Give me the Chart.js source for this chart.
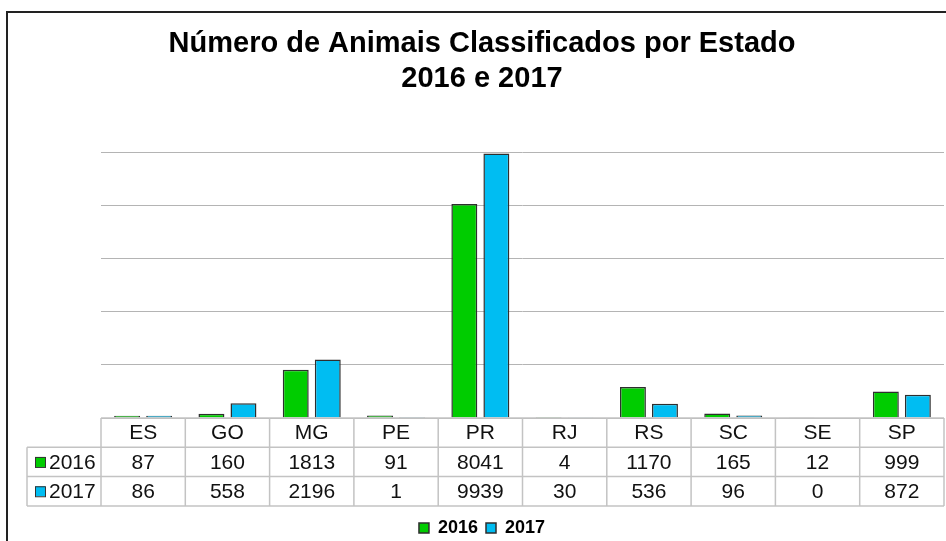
<!DOCTYPE html>
<html lang="pt">
<head>
<meta charset="UTF-8">
<title>Número de Animais Classificados por Estado</title>
<script src="https://cdn.jsdelivr.net/npm/chart.js"></script>
<style>
    body { margin: 0; background: #fff; }
    .wrap { position: relative; width: 946px; height: 541px; }
</style>
</head>
<body>
<div class="wrap"><canvas id="chart" width="946" height="541"></canvas></div>
<script>
    const estados = ['ES', 'GO', 'MG', 'PE', 'PR', 'RJ', 'RS', 'SC', 'SE', 'SP'];
    const anos = ['2016', '2017'];
    const valores2016 = [87, 160, 1813, 91, 8041, 4, 1170, 165, 12, 999];
    const valores2017 = [86, 558, 2196, 1, 9939, 30, 536, 96, 0, 872];
    const yTicks = [0, 2000, 4000, 6000, 8000, 10000];
    const cores = ['#00cc00', '#00bdf2'];
    const fonte = '"Liberation Sans", Arial, sans-serif';

    // frame around the chart (top and left edges visible)
    const moldura = {
        id: 'moldura',
        beforeDraw(chart) {
            const ctx = chart.ctx;
            ctx.save();
            ctx.fillStyle = '#fff';
            ctx.fillRect(0, 0, chart.width, chart.height);
            ctx.strokeStyle = '#222';
            ctx.lineWidth = 2;
            ctx.beginPath();
            ctx.moveTo(7, chart.height);
            ctx.lineTo(7, 12);
            ctx.lineTo(chart.width, 12);
            ctx.stroke();
            ctx.restore();
        }
    };

    // data table under the bars
    const tabela = {
        id: 'tabela',
        afterDraw(chart) {
            const { ctx, chartArea } = chart;
            const x = chart.scales.x;
            const left = chartArea.left, right = chartArea.right;
            const colW = (right - left) / estados.length;
            const top = chartArea.bottom;
            const rowH = 29.3;
            const labelLeft = 27;
            ctx.save();
            ctx.strokeStyle = '#c3c3c3';
            ctx.lineWidth = 1.5;
            ctx.beginPath();
            ctx.moveTo(left, top);
            ctx.lineTo(right, top);
            for (let r = 1; r <= 3; r++) {
                ctx.moveTo(labelLeft, top + r * rowH);
                ctx.lineTo(right, top + r * rowH);
            }
            for (let c = 0; c <= estados.length; c++) {
                const cx = left + c * colW;
                ctx.moveTo(cx, top);
                ctx.lineTo(cx, top + 3 * rowH);
            }
            ctx.moveTo(labelLeft, top + rowH);
            ctx.lineTo(labelLeft, top + 3 * rowH);
            ctx.stroke();

            ctx.fillStyle = '#111';
            ctx.font = '21px ' + fonte;
            ctx.textAlign = 'center';
            ctx.textBaseline = 'middle';
            estados.forEach((e, i) => {
                const cx = x.getPixelForValue(i);
                ctx.fillText(e, cx, top + rowH * 0.5 + 1);
                chart.data.datasets.forEach((ds, d) => {
                    ctx.fillText(String(ds.data[i]), cx, top + rowH * (1.5 + d) + 1);
                });
            });

            chart.data.datasets.forEach((ds, d) => {
                const cy = top + rowH * (1.5 + d);
                ctx.fillStyle = ds.backgroundColor;
                ctx.fillRect(35, cy - 5, 10, 10);
                ctx.strokeStyle = '#333';
                ctx.lineWidth = 1;
                ctx.strokeRect(35.5, cy - 4.5, 10, 10);
                ctx.fillStyle = '#111';
                ctx.textAlign = 'left';
                ctx.fillText(ds.label, 49, cy + 1);
            });
            ctx.restore();
        }
    };

    new Chart(document.getElementById('chart').getContext('2d'), {
        type: 'bar',
        data: {
            labels: estados,
            datasets: [
                { label: anos[0], data: valores2016, backgroundColor: cores[0] },
                { label: anos[1], data: valores2017, backgroundColor: cores[1] }
            ]
        },
        options: {
            responsive: false,
            animation: false,
            layout: { padding: { left: 20, right: 2, top: 0, bottom: -6 } },
            datasets: {
                bar: { barPercentage: 0.81, categoryPercentage: 0.76, borderWidth: 1.5, borderColor: '#2e2e2e' }
            },
            plugins: {
                title: {
                    display: true,
                    text: ['Número de Animais Classificados por Estado', '2016 e 2017'],
                    color: '#000',
                    font: { family: fonte, size: 29, weight: 'bold', lineHeight: 1.2 },
                    padding: { top: 27, bottom: 55.4 }
                },
                legend: {
                    position: 'bottom',
                    labels: {
                        boxWidth: 10, boxHeight: 10, padding: 8, color: '#000',
                        font: { family: fonte, size: 18, weight: 'bold' }
                    }
                },
                tooltip: { enabled: false }
            },
            scales: {
                x: {
                    grid: { display: false },
                    border: { display: false },
                    ticks: { display: false },
                    afterFit(s) { s.height = 93; }
                },
                y: {
                    min: 0,
                    max: 10000,
                    ticks: { display: false },
                    afterBuildTicks(s) { s.ticks = yTicks.map(v => ({ value: v })); },
                    grid: { color: '#b4b4b4', drawTicks: false },
                    border: { display: false },
                    afterFit(s) { s.width = 81; }
                }
            }
        },
        plugins: [moldura, tabela]
    });
</script>
</body>
</html>
